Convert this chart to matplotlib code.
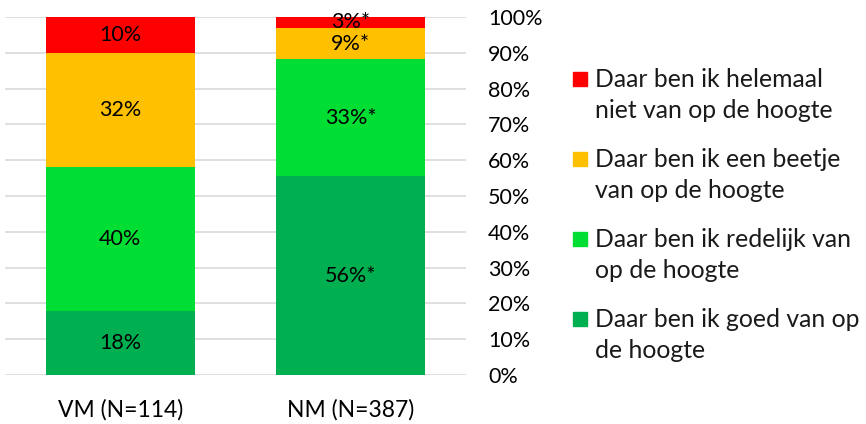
import numpy as np
import pandas as pd
import matplotlib
matplotlib.use('Agg')
import matplotlib.pyplot as plt
from matplotlib.patches import Rectangle

plt.rcParams['font.family'] = ['Lato', 'DejaVu Sans']

categories = ['VM (N=114)', 'NM (N=387)']
series_names = [
    'Daar ben ik goed van op\nde hoogte',
    'Daar ben ik redelijk van\nop de hoogte',
    'Daar ben ik een beetje\nvan op de hoogte',
    'Daar ben ik helemaal\nniet van op de hoogte',
]
goed = [18, 56]
redelijk = [40, 33]
beetje = [32, 9]
helemaal_niet = [10, 3]
labels_goed = ['18%', '56%*']
labels_redelijk = ['40%', '33%*']
labels_beetje = ['32%', '9%*']
labels_niet = ['10%', '3%*']
colors = ['#00b050', '#00dd33', '#ffc000', '#ff0000']

df = pd.DataFrame({'goed': goed, 'redelijk': redelijk, 'beetje': beetje, 'niet': helemaal_niet},
                  index=categories)
# 100% gestapeld, zoals in Excel
share = df.div(df.sum(axis=1), axis=0) * 100
texts = [labels_goed, labels_redelijk, labels_beetje, labels_niet]

W, H = 866, 424
fig = plt.figure(figsize=(W / 100, H / 100), dpi=100)
ax = fig.add_axes([0.006, 0.1156, 0.532, 0.8444])

x = np.arange(len(categories))
bottom = np.zeros(len(categories))
for col, color, lab in zip(share.columns, colors, texts):
    vals = share[col].values
    ax.bar(x, vals, width=0.646, bottom=bottom, color=color, edgecolor='none', zorder=3)
    for xi, v, bt, t in zip(x, vals, bottom, lab):
        ax.text(xi, bt + v / 2, t, ha='center', va='center', fontsize=15.5, color='black', zorder=4)
    bottom += vals

ax.set_xlim(-0.5, 1.5)
ax.set_ylim(0, 100)
ax.set_yticks(np.arange(0, 101, 10))
ax.set_yticklabels([f'{v}%' for v in range(0, 101, 10)])
ax.yaxis.tick_right()
ax.grid(axis='y', color='#d9d9d9', linewidth=1.2, zorder=0)
ax.set_xticks(x)
ax.set_xticklabels(categories, fontsize=16.5)
ax.tick_params(axis='y', length=0, labelsize=15.5, pad=16)
ax.tick_params(axis='x', length=0, pad=17)
for s in ax.spines.values():
    s.set_visible(False)

# legenda: van boven naar beneden, blokje bij de eerste regel
for i, (name, color) in enumerate(zip(series_names[::-1], colors[::-1])):
    base = 87 + 80 * i  # basislijn van de eerste regel, in pixels van boven
    fig.patches.append(Rectangle((573 / W, 1 - (base - 1) / H), 14 / W, 14 / H,
                                 transform=fig.transFigure, color=color))
    # bij va='baseline' telt de basislijn van de laatste regel
    fig.text(595 / W, 1 - (base + 31) / H, name, fontsize=17.8, va='baseline', ha='left',
             linespacing=1.42, color='#1a1a1a')

fig.savefig('out.png', dpi=100)
